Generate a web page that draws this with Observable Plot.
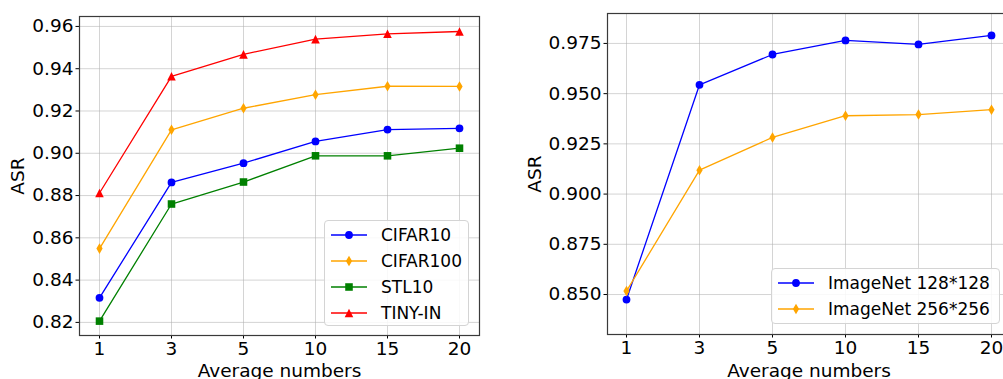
<!DOCTYPE html>
<html>
<head>
<meta charset="utf-8">
<script src="https://cdn.jsdelivr.net/npm/d3@7"></script>
<script src="https://cdn.jsdelivr.net/npm/@observablehq/plot@0.6"></script>
<style>
html, body { margin: 0; padding: 0; background: #fff; overflow: hidden; }
#wrap { position: relative; width: 1003px; height: 379px; overflow: hidden; font-family: "DejaVu Sans", sans-serif; }
.panel { position: absolute; top: 0; }
.panel svg { max-width: none !important; }
.legend { position: absolute; box-sizing: border-box; border: 1px solid #d4d4d4; border-radius: 4px; background: rgba(255,255,255,0.85); }
.legend .row { position: absolute; left: 0; height: 26px; display: flex; align-items: center; }
.legend .row svg { position: absolute; left: 0; top: 0; }
.legend .row span { position: absolute; left: 56px; font-size: 17px; color: #000; white-space: nowrap; line-height: 26px; top: 0; }
</style>
</head>
<body>
<div id="wrap"></div>
<script>
// ---- data ----
const avgNumbers = ["1", "3", "5", "10", "15", "20"];
const leftYTicks = [0.82, 0.84, 0.86, 0.88, 0.90, 0.92, 0.94, 0.96];
const rightYTicks = [0.850, 0.875, 0.900, 0.925, 0.950, 0.975];

const cifar10  = [0.8316, 0.8862, 0.8953, 0.9056, 0.9112, 0.9118];
const cifar100 = [0.8549, 0.9111, 0.9213, 0.9277, 0.9317, 0.9316];
const stl10    = [0.8206, 0.8760, 0.8864, 0.8988, 0.8988, 0.9024];
const tinyIn   = [0.8812, 0.9364, 0.9468, 0.9540, 0.9565, 0.9576];

const imagenet128 = [0.8475, 0.9544, 0.9695, 0.9765, 0.9745, 0.9790];
const imagenet256 = [0.8517, 0.9119, 0.9282, 0.9390, 0.9396, 0.9420];

const leftNames = ["CIFAR10", "CIFAR100", "STL10", "TINY-IN"];
const rightNames = ["ImageNet 128*128", "ImageNet 256*256"];

// ---- markers ----
const symbols = {
  circle: { draw(c, s) { const r = Math.sqrt(s / Math.PI); c.moveTo(r, 0); c.arc(0, 0, r, 0, 2 * Math.PI); c.closePath(); } },
  thinDiamond: { draw(c, s) { const r = Math.sqrt(s / Math.PI); const h = r * 1.35, w = r * 0.8; c.moveTo(0, -h); c.lineTo(w, 0); c.lineTo(0, h); c.lineTo(-w, 0); c.closePath(); } },
  square: { draw(c, s) { const r = Math.sqrt(s / Math.PI) * 0.97; c.moveTo(-r, -r); c.lineTo(r, -r); c.lineTo(r, r); c.lineTo(-r, r); c.closePath(); } },
  triangle: { draw(c, s) { const r = Math.sqrt(s / Math.PI) * 1.1; c.moveTo(0, -r); c.lineTo(r, r); c.lineTo(-r, r); c.closePath(); } }
};
const R = 3.9;

const leftSeries = [
  { name: leftNames[0], values: cifar10, color: "blue", marker: "circle" },
  { name: leftNames[1], values: cifar100, color: "orange", marker: "thinDiamond" },
  { name: leftNames[2], values: stl10, color: "green", marker: "square" },
  { name: leftNames[3], values: tinyIn, color: "red", marker: "triangle" }
];
const rightSeries = [
  { name: rightNames[0], values: imagenet128, color: "blue", marker: "circle" },
  { name: rightNames[1], values: imagenet256, color: "orange", marker: "thinDiamond" }
];

function chart(o) {
  const marks = [
    Plot.gridX({ stroke: "#b0b0b0", strokeOpacity: 0.55, strokeWidth: 1 }),
    Plot.gridY(o.yTicks, { stroke: "#b0b0b0", strokeOpacity: 0.55, strokeWidth: 1 })
  ];
  for (const s of o.series) {
    marks.push(Plot.line(avgNumbers, { x: d => d, y: (d, i) => s.values[i], stroke: s.color, strokeWidth: 1.3 }));
  }
  for (const s of o.series) {
    marks.push(Plot.dot(avgNumbers, { x: d => d, y: (d, i) => s.values[i], fill: s.color, stroke: "none", r: R, symbol: symbols[s.marker] }));
  }
  marks.push(Plot.axisX({ tickSize: 3.5, tickPadding: 3, label: "Average numbers", labelAnchor: "center", labelArrow: "none", labelOffset: o.xLabelOffset }));
  marks.push(Plot.axisY(o.yTicks, { tickFormat: d3.format(o.yFormat), tickSize: 3.5, tickPadding: 2.5, label: "ASR", labelAnchor: "center", labelArrow: "none", labelOffset: o.yLabelOffset }));
  marks.push(Plot.frame({ stroke: "#3a3a3a", strokeWidth: 1.2 }));
  return Plot.plot({
    width: o.width,
    height: 379,
    marginLeft: o.marginLeft,
    marginRight: o.marginRight,
    marginTop: o.marginTop,
    marginBottom: o.marginBottom,
    x: { type: "point", domain: avgNumbers, padding: 0.25 },
    y: { domain: o.yDomain },
    style: { fontFamily: "DejaVu Sans", fontSize: "18.5px", color: "black", background: "transparent", overflow: "visible", maxWidth: "none" },
    marks
  });
}

function legend(parent, series, left, top, width, height) {
  const box = d3.select(parent).append("div").attr("class", "legend")
    .style("left", left + "px").style("top", top + "px")
    .style("width", width + "px").style("height", height + "px");
  series.forEach((s, i) => {
    const row = box.append("div").attr("class", "row").style("top", (1 + i * 25.9) + "px").style("width", (width - 2) + "px");
    const svg = row.append("svg").attr("width", 50).attr("height", 26);
    svg.append("line").attr("x1", 6).attr("x2", 42).attr("y1", 13).attr("y2", 13).attr("stroke", s.color).attr("stroke-width", 1.3);
    svg.append("path").attr("transform", "translate(24,13)").attr("fill", s.color)
      .attr("d", d3.symbol(symbols[s.marker], Math.PI * R * R)());
    row.append("span").text(s.name);
  });
}

const wrap = document.getElementById("wrap");

const leftPanel = document.createElement("div");
leftPanel.className = "panel";
leftPanel.style.left = "0px";
leftPanel.style.width = "500px";
leftPanel.appendChild(chart({
  series: leftSeries, yTicks: leftYTicks, yFormat: ".2f", yDomain: [0.8138, 0.9647],
  width: 500, marginLeft: 79, marginRight: 21, marginTop: 16, marginBottom: 44,
  yLabelOffset: 69, xLabelOffset: 41
}));
wrap.appendChild(leftPanel);

const rightPanel = document.createElement("div");
rightPanel.className = "panel";
rightPanel.style.left = "500px";
rightPanel.style.width = "512px";
rightPanel.appendChild(chart({
  series: rightSeries, yTicks: rightYTicks, yFormat: ".3f", yDomain: [0.8301, 0.9899],
  width: 512, marginLeft: 107, marginRight: 2, marginTop: 13, marginBottom: 45,
  yLabelOffset: 80, xLabelOffset: 42
}));
wrap.appendChild(rightPanel);

legend(wrap, leftSeries, 324, 220, 145, 106);
legend(wrap, rightSeries, 771, 268, 229, 56);
</script>
</body>
</html>
